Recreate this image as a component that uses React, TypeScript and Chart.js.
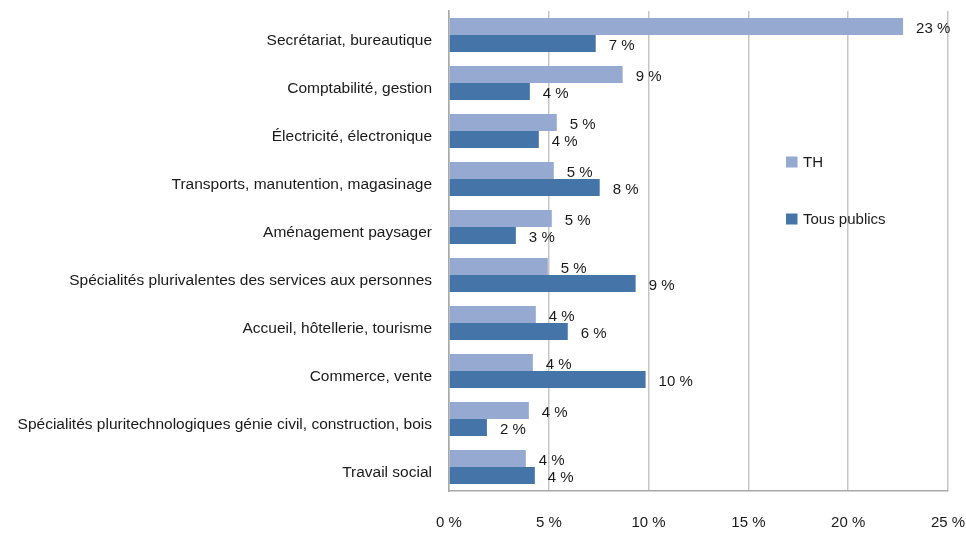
import React, { useEffect, useRef } from "react";
import { Chart, registerables } from "chart.js";

Chart.register(...registerables);

const categories = [
  "Secrétariat, bureautique",
  "Comptabilité, gestion",
  "Électricité, électronique",
  "Transports, manutention, magasinage",
  "Aménagement paysager",
  "Spécialités plurivalentes des services aux personnes",
  "Accueil, hôtellerie, tourisme",
  "Commerce, vente",
  "Spécialités pluritechnologiques génie civil, construction, bois",
  "Travail social",
];

const seriesTH = [22.75, 8.7, 5.4, 5.25, 5.15, 4.95, 4.35, 4.2, 4.0, 3.85];
const seriesTP = [7.35, 4.05, 4.5, 7.55, 3.35, 9.35, 5.95, 9.85, 1.9, 4.3];

const labelTH = ["23 %", "9 %", "5 %", "5 %", "5 %", "5 %", "4 %", "4 %", "4 %", "4 %"];
const labelTP = ["7 %", "4 %", "4 %", "8 %", "3 %", "9 %", "6 %", "10 %", "2 %", "4 %"];

const xTicks = ["0 %", "5 %", "10 %", "15 %", "20 %", "25 %"];

const colorTH = "#95a9d1";
const colorTP = "#4574a9";
const FONT = "'Liberation Sans', Arial, sans-serif";

export default function App() {
  const ref = useRef<HTMLCanvasElement | null>(null);

  useEffect(() => {
    if (!ref.current) return;
    const labelsPlugin = {
      id: "valueLabels",
      afterDatasetsDraw(chart: any) {
        const ctx = chart.ctx;
        ctx.save();
        ctx.font = `15px ${FONT}`;
        ctx.fillStyle = "#1a1a1a";
        ctx.textAlign = "left";
        ctx.textBaseline = "middle";
        const sets = [labelTH, labelTP];
        chart.data.datasets.forEach((_ds: any, di: number) => {
          const meta = chart.getDatasetMeta(di);
          meta.data.forEach((bar: any, i: number) => {
            ctx.fillText(sets[di][i], bar.x + 13, bar.y + 2);
          });
        });
        ctx.restore();
      },
      afterDraw(chart: any) {
        const ctx = chart.ctx;
        ctx.save();
        ctx.font = `15px ${FONT}`;
        ctx.textBaseline = "middle";
        ctx.textAlign = "left";
        const items = [
          { t: "TH", c: colorTH, y: 162 },
          { t: "Tous publics", c: colorTP, y: 219 },
        ];
        items.forEach((it) => {
          ctx.fillStyle = it.c;
          ctx.fillRect(786, it.y - 5.5, 11.5, 11);
          ctx.fillStyle = "#1a1a1a";
          ctx.fillText(it.t, 803, it.y + 1);
        });
        ctx.restore();
      },
    };

    const chart = new Chart(ref.current, {
      type: "bar",
      data: {
        labels: categories,
        datasets: [
          {
            label: "TH",
            data: seriesTH,
            backgroundColor: colorTH,
            barPercentage: 1,
            categoryPercentage: 0.71,
          },
          {
            label: "Tous publics",
            data: seriesTP,
            backgroundColor: colorTP,
            barPercentage: 1,
            categoryPercentage: 0.71,
          },
        ],
      },
      options: {
        indexAxis: "y",
        animation: false,
        responsive: false,
        maintainAspectRatio: false,
        layout: { padding: { top: 11, right: 18, left: 0, bottom: 0 } },
        plugins: {
          legend: { display: false },
          tooltip: { enabled: false },
        },
        scales: {
          x: {
            min: 0,
            max: 25,
            ticks: {
              stepSize: 5,
              color: "#1a1a1a",
              font: { family: FONT, size: 15 },
              padding: 23,
              callback: (_v: any, i: number) => xTicks[i],
            },
            grid: { color: "#c6c6c6", lineWidth: 1.5, drawTicks: false },
            border: { color: "#a8a8a8", width: 1.5 },
            afterFit: (s: any) => {
              s.height = 42;
              s.paddingLeft = 0;
              s.paddingRight = 0;
            },
          },
          y: {
            ticks: {
              color: "#1a1a1a",
              font: { family: FONT, size: 15.5 },
              padding: 17,
              labelOffset: 6,
            },
            grid: { display: false, drawTicks: false },
            border: { color: "#a8a8a8", width: 1.5 },
            afterFit: (s: any) => {
              s.width = 449;
              s.paddingTop = 0;
              s.paddingBottom = 0;
            },
          },
        },
      },
      plugins: [labelsPlugin],
    } as any);
    return () => chart.destroy();
  }, []);

  return (
    <div style={{ position: "absolute", left: 0, top: 0, width: 966, height: 533, background: "#fff" }}>
      <canvas ref={ref} width={966} height={533} style={{ display: "block" }} />
    </div>
  );
}
